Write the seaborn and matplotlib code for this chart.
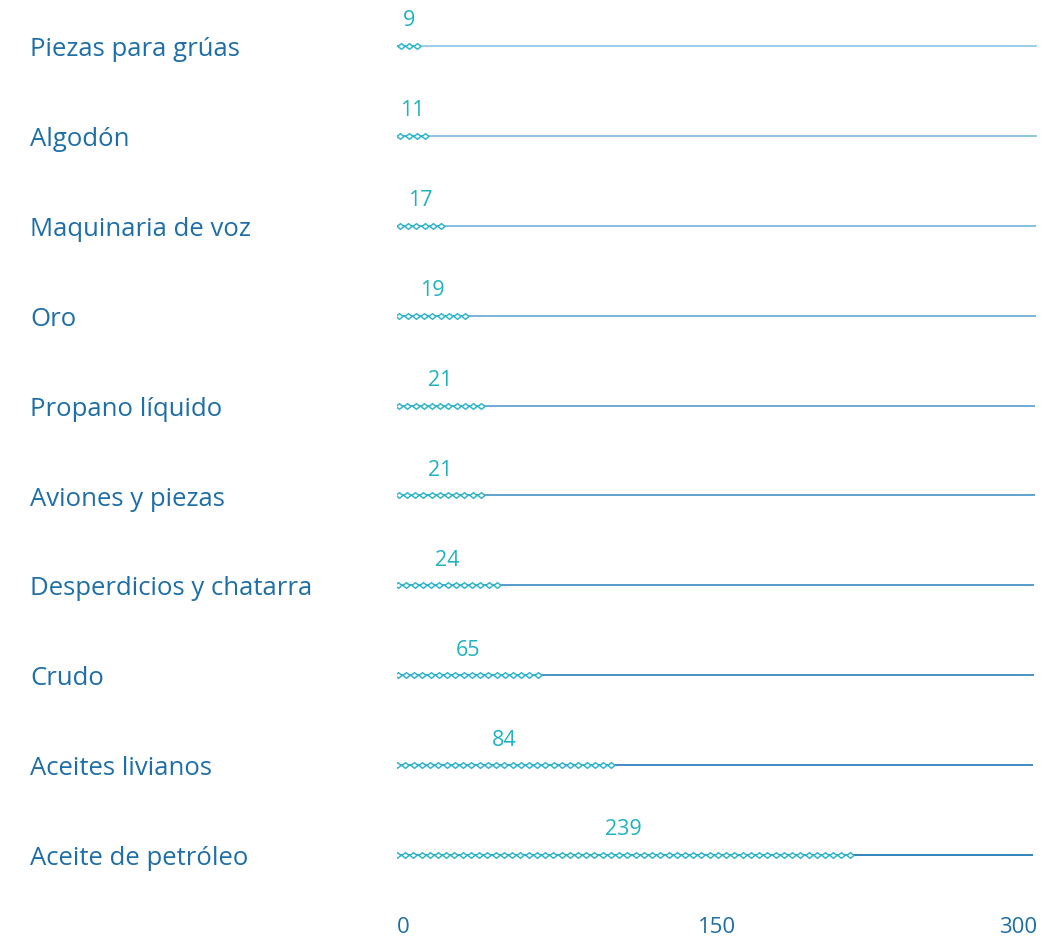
import numpy as np
import pandas as pd
import matplotlib
matplotlib.use("Agg")
import matplotlib.pyplot as plt
import matplotlib.transforms as mtransforms
import seaborn as sns

categories = ["Piezas para grúas", "Algodón", "Maquinaria de voz", "Oro",
              "Propano líquido", "Aviones y piezas", "Desperdicios y chatarra",
              "Crudo", "Aceites livianos", "Aceite de petróleo"]
values = [9, 11, 17, 19, 21, 21, 24, 65, 84, 239]
symbol_counts = [3, 4, 6, 9, 11, 11, 13, 18, 27, 56]
x_ticks = [0, 150, 300]

sns.set_theme(style="white")
plt.rcParams["font.family"] = ["Open Sans", "DejaVu Sans"]

W, H = 1064, 942
fig = plt.figure(figsize=(W / 100, H / 100), dpi=100)
ax = fig.add_axes([397 / W, 0.0, 640 / W, 1.0])

n = len(categories)
row_px = 89.9
top_px = 46
ax.set_xlim(0, 300)
ax.set_ylim((H - top_px) / row_px, -top_px / row_px)
ax.axis("off")

label_col = "#1e6ea7"
value_col = "#1fb3bf"
edge_col = "#2eb4c8"
line_cols = sns.blend_palette(["#95c9e8", "#2178b6"], n)

step = 3.86
first = 1.8
row_shift = -0.21
rows = []
for i, (c, cnt) in enumerate(zip(categories, symbol_counts)):
    for k in range(cnt):
        rows.append({"cat": c, "y": i, "x": first + k * step + row_shift * i})
df = pd.DataFrame(rows)

for i, cnt in enumerate(symbol_counts):
    sh = row_shift * i
    ax.plot([0 + sh, 300 + sh], [i, i], color=line_cols[i], lw=1.3, zorder=1,
            solid_capstyle="butt")
    end = first + (cnt - 1) * step + sh
    ax.plot([sh, end], [i, i], color=edge_col, lw=1.2, zorder=2,
            solid_capstyle="butt")

diamond = [(-1, 0), (0, 0.8), (1, 0), (0, -0.8), (-1, 0)]
sns.scatterplot(data=df, x="x", y="y", marker=diamond, s=26, facecolor="white",
                edgecolor=edge_col, linewidth=1.05, ax=ax, zorder=3, legend=False)

blend = mtransforms.blended_transform_factory(fig.transFigure, ax.transData)
for i, (c, v, cnt) in enumerate(zip(categories, values, symbol_counts)):
    ax.text(30 / W, i + 0.04, c, transform=blend, ha="left", va="center",
            fontsize=18.5, color=label_col)
    end = first + (cnt - 1) * step + 1.8
    ax.text(end / 2 + row_shift * i, i - 0.28, str(v), ha="center", va="center",
            fontsize=15.5, color=value_col)

tick_y = (928 - top_px) / row_px
aligns = ["left", "center", "right"]
for t, a in zip(x_ticks, aligns):
    ax.text(t, tick_y, str(t), ha=a, va="center", fontsize=16, color=label_col)

fig.savefig("out.png", dpi=100, facecolor="white")
